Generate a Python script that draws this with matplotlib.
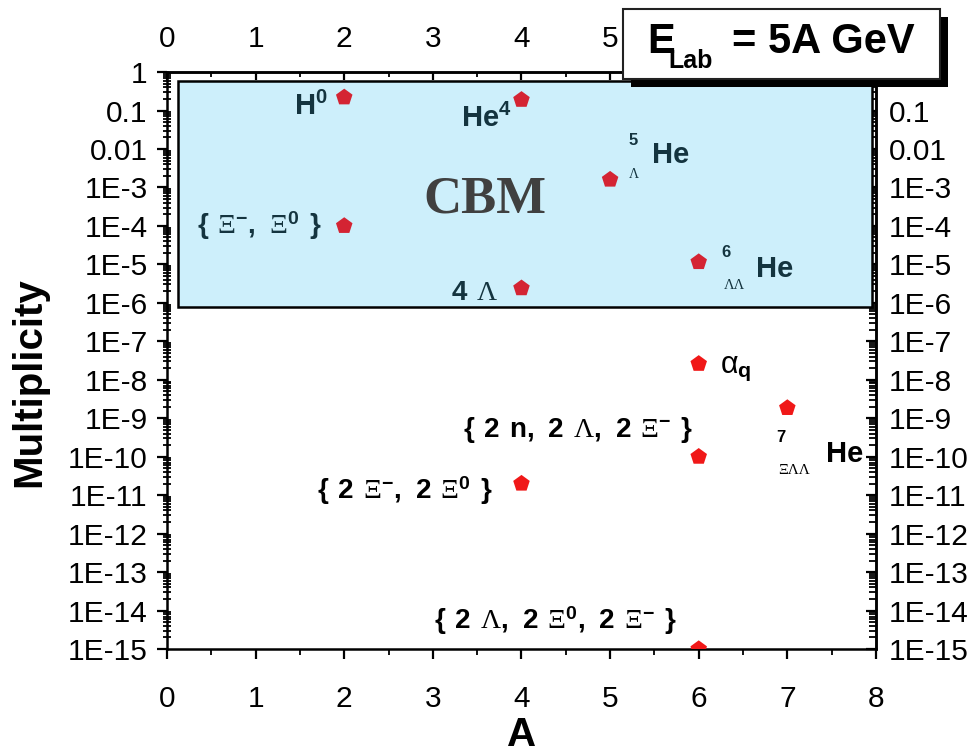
import numpy as np
import matplotlib
matplotlib.use("Agg")
import matplotlib.pyplot as plt
from matplotlib.patches import Rectangle
from matplotlib.ticker import FixedLocator, MultipleLocator, FuncFormatter, NullFormatter

plt.rcParams["font.family"] = ["Liberation Sans", "DejaVu Sans"]
plt.rcParams["mathtext.fontset"] = "custom"
plt.rcParams["mathtext.rm"] = "Liberation Serif"
plt.rcParams["mathtext.it"] = "Liberation Serif:italic"
plt.rcParams["mathtext.bf"] = "Liberation Sans:bold"
plt.rcParams["mathtext.sf"] = "Liberation Sans"

# yields of light (hyper)nuclei and strange clusters at E_lab = 5A GeV
MASS_NUMBER = [2, 4, 2, 5, 6, 4, 6, 7, 6, 4, 6]
MULTIPLICITY = [0.22, 0.19, 1.0e-4, 1.6e-3, 1.15e-5, 2.4e-6,
                2.6e-8, 1.85e-9, 1.0e-10, 2.0e-11, 1.0e-15]

# region reachable by CBM
CBM_A = (0.12, 7.955)
CBM_MULT = (7.8e-7, 0.58)

X_TICKS = [0, 1, 2, 3, 4, 5, 6, 7, 8]
Y_DECADES = list(range(-15, 1))

INK_IN = "#14343f"
RED_IN = "#d42433"
RED_OUT = "#f01818"
PANEL = "#cdeffb"

SP = r"\ \,"   # word gap inside the cluster labels


def decade_label(v, pos):
    e = int(round(np.log10(v)))
    if e >= -2:
        return f"{v:g}"
    return f"1E{e}"


def log_ticks(axis, formatter):
    axis.set_major_locator(FixedLocator([10.0 ** e for e in Y_DECADES]))
    axis.set_minor_locator(FixedLocator([m * 10.0 ** e for e in Y_DECADES[:-1] for m in range(2, 10)]))
    axis.set_major_formatter(FuncFormatter(formatter))
    axis.set_minor_formatter(NullFormatter())


def cluster(*parts):
    """Bold sans for digits/braces, upright serif for the Greek letters."""
    out = []
    for p in parts:
        if p.startswith("G"):
            sym, sup = p[1:].split("|") if "|" in p else (p[1:], "")
            s = r"\mathrm{\%s}" % sym
            if sup:
                s += r"^{\mathbf{%s}}" % sup
            out.append(s)
        else:
            out.append(r"\mathbf{%s}" % p)
    return "$" + "".join(out) + "$"


fig = plt.figure(figsize=(9.76, 7.56), dpi=100)
ax = fig.add_axes([0.1711, 0.1415, 0.7264, 0.7632])
ax.set_yscale("log")
ax.set_xlim(0, 8)
ax.set_ylim(1e-15, 1)

for s in ax.spines.values():
    s.set_linewidth(1.8)

ax.add_patch(Rectangle((CBM_A[0], CBM_MULT[0]), CBM_A[1] - CBM_A[0], CBM_MULT[1] - CBM_MULT[0],
                       facecolor=PANEL, edgecolor="black", lw=1.8, zorder=1))

mult = np.array(MULTIPLICITY)
colors = np.where(mult > CBM_MULT[0], RED_IN, RED_OUT)
ax.scatter(MASS_NUMBER, mult, marker="p", s=12.5 ** 2, c=colors, linewidths=0, zorder=5)

# bottom / left axes
ax.set_xticks(X_TICKS)
ax.xaxis.set_minor_locator(MultipleLocator(0.5))
log_ticks(ax.yaxis, decade_label)
ax.tick_params(axis="x", which="major", direction="out", length=7, width=1.6, pad=19, labelsize=21.5)
ax.tick_params(axis="x", which="minor", direction="out", length=4.5, width=1.3)
ax.tick_params(axis="y", which="major", direction="out", length=7, width=1.6, pad=7, labelsize=21.5)
ax.tick_params(axis="y", which="minor", direction="inout", length=6, width=1.3)

# mirrored top / right axes, ticks pointing in (labels under the energy box are left out)
top = ax.secondary_xaxis("top")
top.set_xticks(X_TICKS)
top.xaxis.set_major_formatter(FuncFormatter(lambda v, p: f"{v:g}" if v < 5.5 else ""))
top.xaxis.set_minor_locator(MultipleLocator(0.5))
top.tick_params(which="major", direction="in", length=6, width=1.6, pad=14, labelsize=21.5)
top.tick_params(which="minor", direction="in", length=3.5, width=1.3)

right = ax.secondary_yaxis("right")
log_ticks(right.yaxis, lambda v, p: decade_label(v, p) if v < 0.5 else "")
right.tick_params(which="major", direction="in", length=7, width=1.6, pad=9, labelsize=21.5)
right.tick_params(which="minor", direction="in", length=5, width=1.3)
for s in list(top.spines.values()) + list(right.spines.values()):
    s.set_linewidth(1.8)

ax.set_xlabel("A", fontsize=29, fontweight="bold", va="top")
ax.xaxis.set_label_coords(0.5, -0.116)
ax.set_ylabel("Multiplicity", fontsize=29, fontweight="bold")
ax.yaxis.set_label_coords(-0.168, 0.463)

# labels on the CBM panel
ax.text(3.588, 5.0e-4, "CBM", ha="center", va="center", fontsize=38, fontweight="bold",
        family="Liberation Serif", color="#404040", zorder=3)
ax.text(1.817, 0.0762, r"$\mathbf{H^0}$", ha="right", va="baseline", fontsize=21, color=INK_IN)
ax.text(3.893, 0.0372, r"$\mathbf{He^4}$", ha="right", va="baseline", fontsize=21, color=INK_IN)
ax.text(1.749, 9.9e-5, cluster(r"\{" + SP, "GXi|-", "," + SP, "GXi|0", SP + r"\}"),
        ha="right", va="center", fontsize=20, color=INK_IN)
ax.text(3.735, 1.18e-6, cluster("4" + SP, "GLambda"), ha="right", va="baseline",
        fontsize=20, color=INK_IN)

ax.text(5.258, 0.0171, "5", ha="center", va="center", fontsize=12, fontweight="bold", color=INK_IN)
ax.text(5.27, 2.23e-3, "Λ", ha="center", va="center", fontsize=10, family="Liberation Serif", color=INK_IN)
ax.text(5.472, 4.31e-3, "He", ha="left", va="baseline", fontsize=21, fontweight="bold", color=INK_IN)

ax.text(6.307, 2.09e-5, "6", ha="center", va="center", fontsize=12, fontweight="bold", color=INK_IN)
ax.text(6.398, 2.9e-6, "ΛΛ", ha="center", va="center", fontsize=10.5, family="Liberation Serif", color=INK_IN)
ax.text(6.646, 4.69e-6, "He", ha="left", va="baseline", fontsize=21, fontweight="bold", color=INK_IN)

# labels below the panel
ax.text(6.24, 1.5e-8, r"$\mathsf{\alpha}_{\mathbf{q}}$", ha="left", va="baseline", fontsize=22)
ax.text(5.935, 4.94e-10,
        cluster(r"\{" + SP + "2" + SP + "n," + SP + "2" + SP, "GLambda", "," + SP + "2" + SP,
                "GXi|-", SP + r"\}"),
        ha="right", va="center", fontsize=20)
ax.text(6.928, 3.25e-10, "7", ha="center", va="center", fontsize=12, fontweight="bold")
ax.text(7.075, 4.25e-11, "ΞΛΛ", ha="center", va="center", fontsize=11, family="Liberation Serif")
ax.text(7.436, 7.28e-11, "He", ha="left", va="baseline", fontsize=21, fontweight="bold")
ax.text(3.678, 1.28e-11,
        cluster(r"\{" + SP + "2" + SP, "GXi|-", "," + SP + "2" + SP, "GXi|0", SP + r"\}"),
        ha="right", va="center", fontsize=20)
ax.text(5.755, 5.37e-15,
        cluster(r"\{" + SP + "2" + SP, "GLambda", "," + SP + "2" + SP, "GXi|0",
                "," + SP + "2" + SP, "GXi|-", SP + r"\}"),
        ha="right", va="center", fontsize=20)

# beam energy box with drop shadow
fig.add_artist(Rectangle((0.6465, 0.8849), 0.3248, 0.0926, transform=fig.transFigure,
                         facecolor="black", edgecolor="none", zorder=20))
fig.add_artist(Rectangle((0.6383, 0.8955), 0.3248, 0.0926, transform=fig.transFigure,
                         facecolor="white", edgecolor="#222222", lw=1.5, zorder=21))
fig.text(0.6629, 0.9299, "E", ha="left", va="baseline", fontsize=30, fontweight="bold", zorder=22)
fig.text(0.6844, 0.9101, "Lab", ha="left", va="baseline", fontsize=18, fontweight="bold", zorder=22)
fig.text(0.7500, 0.9299, "= 5A GeV", ha="left", va="baseline", fontsize=30, fontweight="bold", zorder=22)

fig.savefig("out.png", dpi=100)
